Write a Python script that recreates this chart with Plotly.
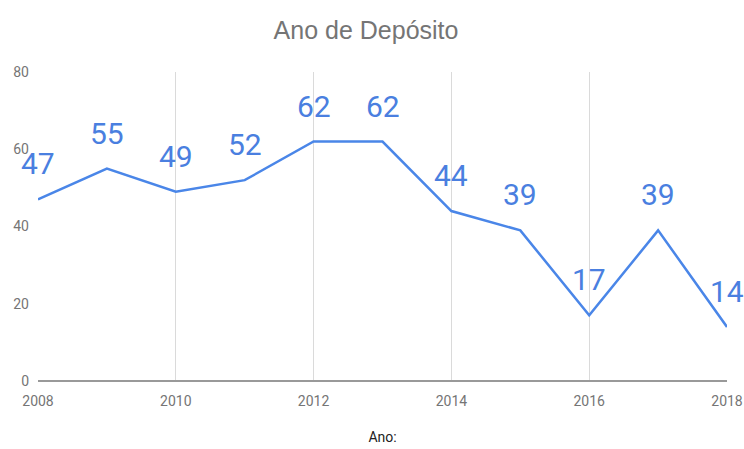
import plotly.graph_objects as go

# Depósitos por ano
anos = [2008, 2009, 2010, 2011, 2012, 2013, 2014, 2015, 2016, 2017, 2018]
depositos = [47, 55, 49, 52, 62, 62, 44, 39, 17, 39, 14]

x_ticks = [2008, 2010, 2012, 2014, 2016, 2018]
y_ticks = [0, 20, 40, 60, 80]

azul = "#4a86e8"
fonte = "Roboto, Arial, sans-serif"

fig = go.Figure()
fig.add_trace(go.Scatter(
    x=anos, y=depositos, mode="lines",
    line=dict(color=azul, width=2.5),
    hoverinfo="x+y", showlegend=False,
))

for a, v in zip(anos, depositos):
    fig.add_annotation(
        x=a, y=v, text=str(v), showarrow=False,
        xanchor="center", yanchor="bottom", yshift=16,
        font=dict(family=fonte, size=30, color="#4a7fe0"),
    )

fig.update_layout(
    width=744, height=449,
    margin=dict(l=38, r=17, t=72, b=68, autoexpand=False),
    paper_bgcolor="white", plot_bgcolor="white",
    title=dict(
        text="Ano de Depósito", x=0.492, xanchor="center", y=0.933, yanchor="middle",
        font=dict(family="Liberation Sans, Arial, sans-serif", size=25, color="#757575"),
    ),
    xaxis=dict(
        range=[2008, 2018], tickvals=x_ticks, ticktext=[str(t) for t in x_ticks],
        showgrid=True, gridcolor="#dadada", gridwidth=1,
        zeroline=False, showline=False, ticks="", ticklabelstandoff=10,
        automargin=False,
        tickfont=dict(family=fonte, size=14, color="#757575"),
        title=dict(text="Ano:", standoff=24,
                   font=dict(family=fonte, size=14, color="#222222")),
        fixedrange=True,
    ),
    yaxis=dict(
        range=[0, 80], tickvals=y_ticks,
        showgrid=False, zeroline=True, zerolinecolor="#999999", zerolinewidth=2,
        showline=False, ticks="", ticklabelstandoff=8,
        automargin=False,
        tickfont=dict(family=fonte, size=14, color="#757575"),
        fixedrange=True,
    ),
)

fig.write_html("out.html")
